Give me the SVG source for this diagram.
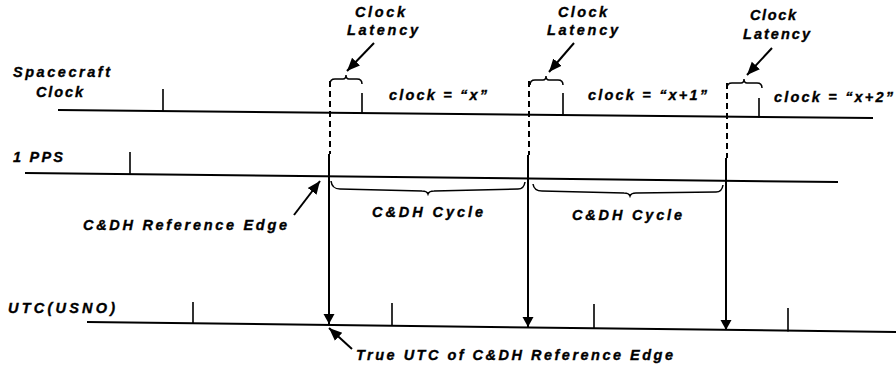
<svg xmlns="http://www.w3.org/2000/svg" width="896" height="370" viewBox="0 0 896 370">
  <defs>
    <style>
      .lbl { font-family: "Liberation Sans", Arial, sans-serif; font-weight: bold; font-style: italic; font-size: 14.5px; fill: #000; stroke: #000; stroke-width: 0.35; }
      .trace { stroke: #000; stroke-width: 2; fill: none; }
      .tick { stroke: #000; stroke-width: 1.6; fill: none; }
      .dash { stroke: #000; stroke-width: 2; stroke-dasharray: 6 4; fill: none; }
      .edge { stroke: #000; stroke-width: 2; fill: none; }
      .brace { stroke: #000; stroke-width: 1.5; fill: none; }
      .ptr { stroke: #000; stroke-width: 2; fill: none; }
    </style>
    <marker id="head" markerUnits="userSpaceOnUse" markerWidth="14" markerHeight="14" viewBox="0 0 14 14" refX="13" refY="7" orient="auto">
      <path d="M0,1.5 L13,7 L0,12.5 Z" fill="#000"/>
    </marker>
    <marker id="drop" markerUnits="userSpaceOnUse" markerWidth="12" markerHeight="12" viewBox="0 0 12 12" refX="11" refY="6" orient="auto">
      <path d="M1,0.5 L11,6 L1,11.5 Z" fill="#000"/>
    </marker>
  </defs>
  <rect width="896" height="370" fill="#fff"/>

  <!-- spacecraft clock trace -->
  <g id="spacecraft-clock">
    <text class="lbl" x="13" y="77" textLength="97" lengthAdjust="spacing">Spacecraft</text>
    <text class="lbl" x="36" y="97" textLength="47" lengthAdjust="spacing">Clock</text>
    <path class="trace" d="M58,110 L873,118"/>
    <path class="tick" d="M163,89 V111 M362,93 V113 M563,93 V115.5 M759,98 V117.5"/>
    <text class="lbl" x="389" y="100" textLength="98" lengthAdjust="spacing">clock = “x”</text>
    <text class="lbl" x="588" y="100" textLength="119" lengthAdjust="spacing">clock = “x+1”</text>
    <text class="lbl" x="774" y="102" textLength="119" lengthAdjust="spacing">clock = “x+2”</text>
  </g>

  <!-- clock latency annotations -->
  <g id="latency-1">
    <text class="lbl" x="355" y="17" textLength="50" lengthAdjust="spacing">Clock</text>
    <text class="lbl" x="347" y="35" textLength="71" lengthAdjust="spacing">Latency</text>
    <path class="brace" d="M330,84 Q330,79 335,79 L343,79 Q346,79 346,75 Q346,79 349,79 L357,79 Q362,79 362,84"/>
  </g>
  <g id="latency-2">
    <text class="lbl" x="558" y="17" textLength="49" lengthAdjust="spacing">Clock</text>
    <text class="lbl" x="547" y="35" textLength="71" lengthAdjust="spacing">Latency</text>
    <path class="brace" d="M530,85 Q530,80 535,80 L543,80 Q546,80 546,76 Q546,80 549,80 L558,80 Q563,80 563,85"/>
  </g>
  <g id="latency-3">
    <text class="lbl" x="750" y="20" textLength="46" lengthAdjust="spacing">Clock</text>
    <text class="lbl" x="743" y="39" textLength="67" lengthAdjust="spacing">Latency</text>
    <path class="brace" d="M727,88 Q727,83 732,83 L741,83 Q744,83 744,79 Q744,83 747,83 L757,83 Q762,83 762,88"/>
  </g>

  <!-- 1 PPS trace -->
  <g id="pps">
    <text class="lbl" x="13" y="162" textLength="50" lengthAdjust="spacing">1 PPS</text>
    <path class="trace" d="M25,173 L838,182"/>
    <path class="tick" d="M130,152 V174"/>
  </g>

  <!-- C&DH cycles between reference edges -->
  <g id="cycle-1">
    <path class="brace" d="M331,181 Q332,189 340,189 L422,191 Q427,191 428,194 Q429,191 434,191 L518,189 Q524,189 525,182"/>
    <text class="lbl" x="372" y="217" textLength="111" lengthAdjust="spacing">C&amp;DH Cycle</text>
  </g>
  <g id="cycle-2">
    <path class="brace" d="M533,184 Q534,191 542,191 L624,193 Q629,193 630,196 Q631,193 636,193 L716,192 Q722,192 723,185"/>
    <text class="lbl" x="572" y="220" textLength="110" lengthAdjust="spacing">C&amp;DH Cycle</text>
  </g>

  <g id="ref-edge-label">
    <text class="lbl" x="83" y="230" textLength="204" lengthAdjust="spacing">C&amp;DH Reference Edge</text>
  </g>

  <!-- UTC(USNO) trace -->
  <g id="utc">
    <text class="lbl" x="8" y="313" textLength="107" lengthAdjust="spacing">UTC(USNO)</text>
    <path class="trace" d="M87,322 L896,332"/>
    <path class="tick" d="M193,302 V323.5 M392,303 V326 M594,304 V328.5 M788,308 V331.5"/>
  </g>

  <g id="true-utc-label">
    <text class="lbl" x="356" y="360" textLength="317" lengthAdjust="spacing">True UTC of C&amp;DH Reference Edge</text>
  </g>

  <!-- reference edges, latency pointers and callouts -->
  <g id="connectors">
    <path class="dash" d="M330,81 V154"/>
    <path class="dash" d="M529,81 V155"/>
    <path class="dash" d="M727,83 V158"/>
    <path class="edge" d="M329,154 V324" marker-end="url(#drop)"/>
    <path class="edge" d="M528,155 V327" marker-end="url(#drop)"/>
    <path class="edge" d="M726,158 V330" marker-end="url(#drop)"/>
    <path class="ptr" d="M374,43 L347,71" marker-end="url(#head)"/>
    <path class="ptr" d="M574,43 L549,72" marker-end="url(#head)"/>
    <path class="ptr" d="M772,48 L747,75" marker-end="url(#head)"/>
    <path class="ptr" d="M294,215 L320,181" marker-end="url(#head)"/>
    <path class="ptr" d="M352,349 L329,328" marker-end="url(#head)"/>
  </g>
</svg>
